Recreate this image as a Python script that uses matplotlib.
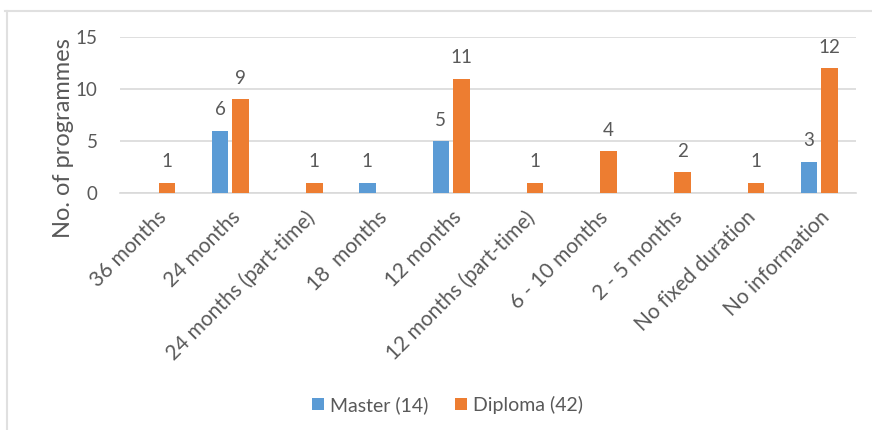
import matplotlib
matplotlib.use('Agg')
import matplotlib.pyplot as plt
import numpy as np
from matplotlib.lines import Line2D

categories = ["36 months", "24 months", "24 months (part-time)", "18  months",
              "12 months", "12 months (part-time)", "6 - 10 months", "2 - 5 months",
              "No fixed duration", "No information"]
master = [0, 6, 0, 1, 5, 0, 0, 0, 0, 3]
diploma = [1, 9, 1, 0, 11, 1, 4, 2, 1, 12]
series_names = ["Master (14)", "Diploma (42)"]

blue = "#5B9BD5"
orange = "#ED7D31"
txt = "#595959"
grid = "#D9D9D9"

plt.rcParams['font.family'] = ['Lato', 'DejaVu Sans']

fig = plt.figure(figsize=(8.72, 4.30), dpi=100)
ax = fig.add_axes([0.1376, 0.551, 0.844, 0.363])

x = np.arange(len(categories))
w = 0.225
off = 0.14
bm = ax.bar(x - off, master, w, color=blue, label=series_names[0], zorder=3)
bd = ax.bar(x + off, diploma, w, color=orange, label=series_names[1], zorder=3)

# data labels (zero values are not labelled)
for bars, vals in ((bm, master), (bd, diploma)):
    for b, v in zip(bars, vals):
        if v == 0:
            continue
        ax.annotate(str(v), (b.get_x() + b.get_width() / 2, v),
                    xytext=(0, 9), textcoords='offset points',
                    ha='center', va='bottom', fontsize=13.5, color=txt)

ax.set_xlim(-0.5, len(categories) - 0.5)
ax.set_ylim(0, 15)
ax.set_yticks([0, 5, 10, 15])
ax.yaxis.grid(True, color=grid, linewidth=1.2, zorder=0)
ax.set_axisbelow(True)
for s in ['top', 'right', 'left']:
    ax.spines[s].set_visible(False)
ax.spines['bottom'].set_color(grid)
ax.spines['bottom'].set_linewidth(1.2)
ax.tick_params(length=0, colors=txt, labelsize=13.5)
ax.tick_params(axis='y', pad=16)
ax.set_xticks(x)
ax.set_xticklabels(categories, rotation=45, ha='right', rotation_mode='anchor',
                   fontsize=15, color=txt)
ax.tick_params(axis='x', pad=10)
ax.set_ylabel("No. of programmes", fontsize=17, color=txt)
ax.yaxis.set_label_coords(-0.062, 0.35)

fig.legend(handles=[bm, bd], loc='center', bbox_to_anchor=(0.513, 0.058),
           ncol=2, frameon=False, fontsize=14, labelcolor=txt,
           handlelength=0.6, handleheight=0.6, handletextpad=0.3, columnspacing=1.4)

# chart frame (light grey border, partly cut off)
fig.add_artist(Line2D([5 / 872, 1], [1 - 11 / 430, 1 - 11 / 430], color="#E0E0E0", lw=1.5,
                      transform=fig.transFigure))
fig.add_artist(Line2D([7 / 872, 7 / 872], [0, 1 - 11 / 430], color="#E0E0E0", lw=1.5,
                      transform=fig.transFigure))

fig.savefig("out.png", dpi=100, facecolor='white')
